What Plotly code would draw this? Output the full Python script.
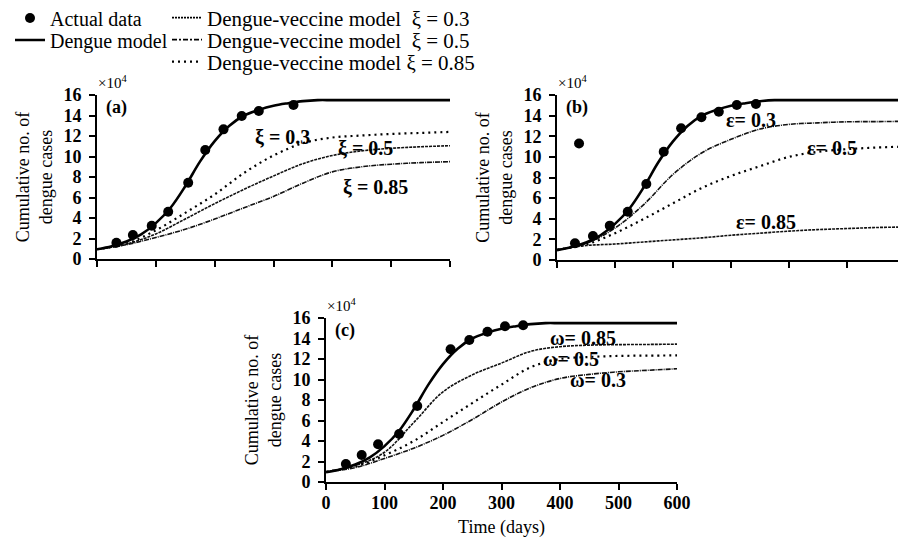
import plotly.graph_objects as go

FONT = "Liberation Serif"

# ---------------- data (cumulative cases, x10^4) ----------------
model_days = [0, 25, 50, 75, 100, 125, 150, 175, 200, 225, 250, 275, 300, 325, 350, 375, 400, 450, 500, 550, 600]
dengue_model = [0.95, 1.25, 1.7, 2.4, 3.5, 5.0, 7.1, 9.5, 11.5, 13.0, 14.0, 14.55, 14.95, 15.2, 15.4, 15.5, 15.5, 15.5, 15.5, 15.5, 15.5]

vax_days = [0, 50, 100, 150, 200, 250, 300, 350, 400, 450, 500, 550, 600]
# panel (a)
xi_03 = [0.95, 1.5, 2.8, 4.5, 6.3, 8.4, 10.1, 11.3, 11.85, 12.05, 12.2, 12.3, 12.4]
xi_05 = [0.95, 1.45, 2.45, 3.9, 5.4, 6.8, 8.1, 9.3, 10.1, 10.55, 10.8, 10.95, 11.05]
xi_085 = [0.95, 1.4, 2.1, 2.9, 3.9, 5.0, 6.1, 7.4, 8.5, 9.0, 9.25, 9.4, 9.5]
# panel (b)
eps_03 = [1.0, 1.6, 3.1, 5.4, 8.3, 10.4, 11.7, 12.7, 13.15, 13.3, 13.4, 13.42, 13.45]
eps_05 = [1.0, 1.5, 2.6, 4.0, 5.5, 7.0, 8.15, 9.1, 10.0, 10.5, 10.75, 10.9, 11.0]
eps_085 = [1.0, 1.4, 1.55, 1.75, 1.95, 2.15, 2.4, 2.6, 2.8, 2.95, 3.05, 3.15, 3.2]
# panel (c)
om_085 = [1.0, 1.6, 2.9, 5.8, 8.8, 10.45, 11.6, 12.75, 13.2, 13.35, 13.4, 13.42, 13.45]
om_05 = [1.0, 1.5, 2.6, 4.0, 5.85, 7.7, 9.5, 11.2, 12.0, 12.2, 12.3, 12.33, 12.35]
om_03 = [1.0, 1.4, 2.3, 3.3, 4.55, 6.1, 7.8, 9.2, 10.1, 10.5, 10.75, 10.9, 11.05]

# actual data
a_days = [33, 61, 93, 121, 155, 184, 215, 246, 275, 334]
a_vals = [1.59, 2.34, 3.25, 4.61, 7.44, 10.63, 12.65, 13.95, 14.44, 15.02]
b_days = [31, 38, 62, 91, 122, 154, 184, 214, 249, 279, 310, 343]
b_vals = [1.62, 11.3, 2.33, 3.33, 4.68, 7.37, 10.5, 12.77, 13.84, 14.38, 15.03, 15.13]
c_days = [34, 61, 89, 125, 156, 213, 245, 276, 306, 337]
c_vals = [1.76, 2.63, 3.68, 4.68, 7.41, 12.95, 13.85, 14.66, 15.2, 15.3]

y_ticks = list(range(0, 17, 2))
x_ticks = list(range(0, 601, 100))

DOT = dict(color="black", width=2.2, dash="2px,4px")
FDASH = dict(color="#111", width=1.6, dash="3px,1px")
FDASHDOT = dict(color="#111", width=1.6, dash="5px,1px,1px,1px")

panels = [
    dict(xa="x", ya="y", days=a_days, vals=a_vals,
         curves=[(xi_03, DOT), (xi_05, FDASH), (xi_085, FDASHDOT)],
         tag="(a)",
         labels=[("ξ = 0.3", 315, 11.9), ("ξ = 0.5", 457, 10.8), ("ξ = 0.85", 473, 7.0)]),
    dict(xa="x2", ya="y2", days=b_days, vals=b_vals,
         curves=[(eps_03, FDASHDOT), (eps_05, DOT), (eps_085, FDASH)],
         tag="(b)",
         labels=[("ε= 0.3", 335, 13.6), ("ε= 0.5", 474, 10.9), ("ε= 0.85", 361, 3.7)]),
    dict(xa="x3", ya="y3", days=c_days, vals=c_vals,
         curves=[(om_085, FDASH), (om_05, DOT), (om_03, FDASHDOT)],
         tag="(c)",
         labels=[("ω= 0.85", 439, 14.05), ("ω= 0.5", 419, 12.0), ("ω= 0.3", 465, 9.95)]),
]

fig = go.Figure()
annotations = []
for p in panels:
    for vals, ln in p["curves"]:
        fig.add_trace(go.Scatter(x=vax_days, y=vals, mode="lines", line=dict(shape="spline", **ln),
                                 xaxis=p["xa"], yaxis=p["ya"], showlegend=False, hoverinfo="skip"))
    fig.add_trace(go.Scatter(x=model_days, y=dengue_model, mode="lines",
                             line=dict(color="black", width=2.6, shape="spline"),
                             xaxis=p["xa"], yaxis=p["ya"], showlegend=False))
    fig.add_trace(go.Scatter(x=p["days"], y=p["vals"], mode="markers",
                             marker=dict(color="black", size=10),
                             xaxis=p["xa"], yaxis=p["ya"], showlegend=False))
    for txt, xx, yy in p["labels"]:
        annotations.append(dict(text=txt, x=xx, y=yy, xref=p["xa"], yref=p["ya"], showarrow=False,
                                font=dict(family=FONT, size=20, color="black", weight="bold")))
    dx = p["xa"] + " domain"
    dy = p["ya"] + " domain"
    annotations.append(dict(text=p["tag"], x=0.022, y=0.925, xref=dx, yref=dy,
                            xanchor="left", yanchor="middle", showarrow=False, borderpad=0,
                            font=dict(family=FONT, size=18, color="black", weight="bold")))
    annotations.append(dict(text="×10<sup>4</sup>", x=0.0, y=1.08, xref=dx, yref=dy,
                            xanchor="left", yanchor="middle", showarrow=False, borderpad=0,
                            font=dict(family=FONT, size=15, color="black")))

# legend entries
NB = "\u00a0"
leg = [
    ("Actual data", dict(mode="markers", marker=dict(color="black", size=10)), "legend"),
    ("Dengue model", dict(mode="lines", line=dict(color="black", width=2.6)), "legend2"),
    ("Dengue-veccine model" + NB * 2 + "ξ" + NB + "=" + NB + "0.3",
     dict(mode="lines", line=dict(color="black", width=1.6, dash="2px,1px")), "legend3"),
    ("Dengue-veccine model" + NB * 2 + "ξ" + NB + "=" + NB + "0.5",
     dict(mode="lines", line=dict(color="black", width=1.6, dash="5px,2px,2px,2px")), "legend4"),
    ("Dengue-veccine model" + NB + "ξ" + NB + "=" + NB + "0.85",
     dict(mode="lines", line=dict(color="black", width=2.2, dash="2px,4px")), "legend5"),
]
for name, kw, lg in leg:
    fig.add_trace(go.Scatter(x=[None], y=[None], name=name, legend=lg, showlegend=True, **kw))

# page is offset by the 8px body margin: positions below are given in page pixels
OFF = 8
W, H = 906 - OFF, 544 - OFF
def px(a, b):
    return [(a - OFF) / W, (b - OFF) / W]
def py(top, bot):
    return [1 - (bot - OFF) / H, 1 - (top - OFF) / H]

axis_common = dict(showline=True, linecolor="black", linewidth=2, ticks="outside", ticklen=6,
                   tickwidth=2, tickcolor="black", showgrid=False, zeroline=False, automargin=False,
                   tickfont=dict(family=FONT, size=18, color="black", weight="bold"))
ytitle = dict(text="Cumulative no. of<br>dengue cases", font=dict(family=FONT, size=18, color="black"), standoff=6)

def legend_at(x, y, size):
    return dict(x=(x - OFF) / W, y=1 - (y - OFF) / H, xanchor="left", yanchor="middle",
                font=dict(family=FONT, size=size, color="black"),
                bgcolor="rgba(0,0,0,0)", itemwidth=30, tracegroupgap=0)

fig.update_layout(
    width=W, height=H, autosize=False,
    margin=dict(l=0, r=0, t=0, b=0, autoexpand=False),
    paper_bgcolor="white", plot_bgcolor="white",
    font=dict(family=FONT, color="black"),
    xaxis=dict(domain=px(97, 450), anchor="y", range=[0, 600], tickvals=x_ticks, showticklabels=False, **axis_common),
    yaxis=dict(domain=py(95, 259), anchor="x", range=[0, 16], tickvals=y_ticks, title=ytitle,
               ticklabelstandoff=4, **axis_common),
    xaxis2=dict(domain=px(557, 905), anchor="y2", range=[0, 600], tickvals=x_ticks, showticklabels=False, **axis_common),
    yaxis2=dict(domain=py(95, 260), anchor="x2", range=[0, 16], tickvals=y_ticks, title=ytitle,
                ticklabelstandoff=4, **axis_common),
    xaxis3=dict(domain=px(326, 677), anchor="y3", range=[0, 600], tickvals=x_ticks, ticklabelstandoff=-3,
                title=dict(text="Time (days)", font=dict(family=FONT, size=18, color="black"), standoff=9),
                **axis_common),
    yaxis3=dict(domain=py(318, 482), anchor="x3", range=[0, 16], tickvals=y_ticks, title=ytitle,
                ticklabelstandoff=4, **axis_common),
    annotations=annotations,
    legend=legend_at(10, 18, 20),
    legend2=legend_at(10, 40, 20),
    legend3=legend_at(167, 18, 21),
    legend4=legend_at(167, 40, 21),
    legend5=legend_at(167, 62, 21),
)

fig.write_html("out.html")
